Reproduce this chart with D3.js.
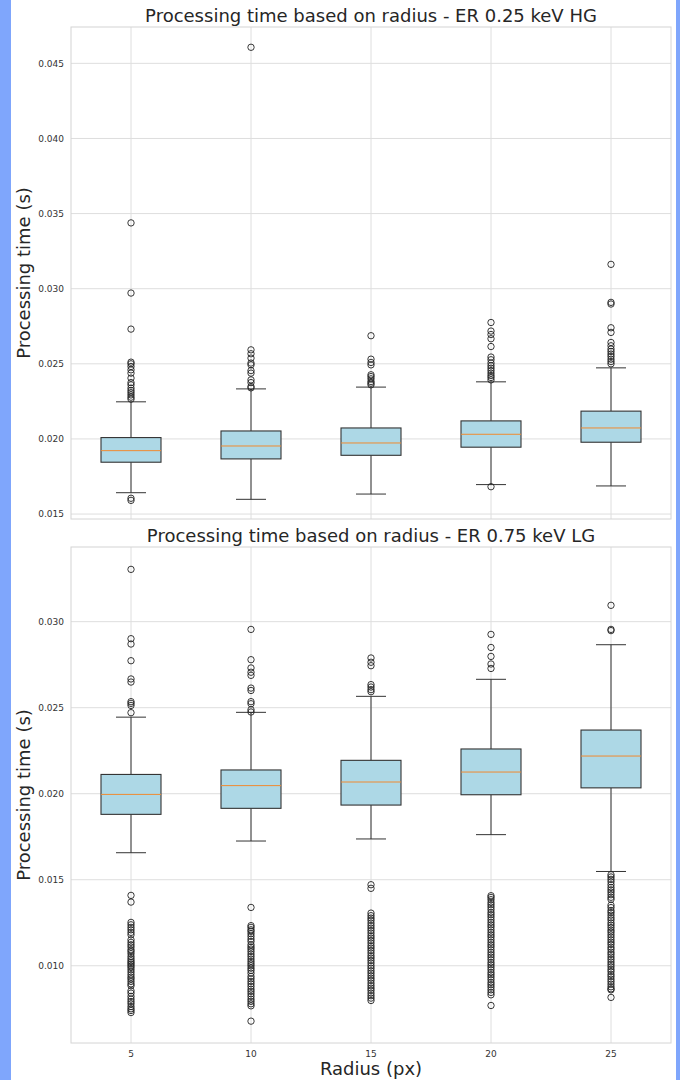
<!DOCTYPE html>
<html>
<head>
<meta charset="utf-8">
<script src="https://cdn.jsdelivr.net/npm/d3@7"></script>
<style>
  body { margin: 0; background: #fff; }
  svg { display: block; font-family: "DejaVu Sans", sans-serif; }
</style>
</head>
<body>
<div id="chart"></div>
<script>
// Radii (x categories)
const radii = [5, 10, 15, 20, 25];

// ER 0.25 keV HG - box statistics
const hgQ1 = [0.01845, 0.01867, 0.01891, 0.01945, 0.01978];
const hgMedian = [0.01922, 0.01953, 0.01973, 0.02031, 0.02073];
const hgQ3 = [0.02009, 0.02053, 0.02073, 0.02120, 0.02185];
const hgWhiskerLow = [0.01642, 0.01598, 0.01633, 0.01696, 0.01687];
const hgWhiskerHigh = [0.02247, 0.02333, 0.02345, 0.02380, 0.02473];
const hgOutliers = [
  [0.03438, 0.02971, 0.02731, 0.02511, 0.02500, 0.02482, 0.02460, 0.02438, 0.02405, 0.02375, 0.02360, 0.02338, 0.02322, 0.02308, 0.02293, 0.02278, 0.02265, 0.01605, 0.01591],
  [0.04607, 0.02593, 0.02567, 0.02538, 0.02505, 0.02493, 0.02455, 0.02438, 0.02393, 0.02375, 0.02349, 0.02340],
  [0.02687, 0.02531, 0.02509, 0.02493, 0.02427, 0.02415, 0.02400, 0.02382, 0.02371, 0.02360],
  [0.02775, 0.02718, 0.02695, 0.02667, 0.02615, 0.02545, 0.02527, 0.02505, 0.02487, 0.02471, 0.02455, 0.02438, 0.02422, 0.02409, 0.02393, 0.01682],
  [0.03162, 0.02909, 0.02898, 0.02740, 0.02709, 0.02642, 0.02620, 0.02598, 0.02582, 0.02565, 0.02549, 0.02531, 0.02515, 0.02500]
];
const hgTicks = [0.015, 0.020, 0.025, 0.030, 0.035, 0.040, 0.045];

// ER 0.75 keV LG - box statistics
const lgQ1 = [0.01880, 0.01915, 0.01934, 0.01994, 0.02034];
const lgMedian = [0.01996, 0.02047, 0.02068, 0.02126, 0.02219];
const lgQ3 = [0.02112, 0.02138, 0.02194, 0.02260, 0.02370];
const lgWhiskerLow = [0.01657, 0.01725, 0.01737, 0.01762, 0.01548];
const lgWhiskerHigh = [0.02445, 0.02473, 0.02566, 0.02665, 0.02866];
const lgOutliers = [
  [0.03304, 0.02901, 0.02870, 0.02773, 0.02667, 0.02649, 0.02535, 0.02525, 0.02513, 0.02471,
   0.01409, 0.01370, 0.01252, 0.01238, 0.01223, 0.01209, 0.01194, 0.01180, 0.01151, 0.01136, 0.01122, 0.01109, 0.01093, 0.01083,
   0.01070, 0.01054, 0.01041, 0.01029, 0.01019, 0.01010, 0.01000, 0.00990, 0.00977, 0.00963, 0.00948, 0.00934, 0.00923, 0.00909,
   0.00895, 0.00884, 0.00855, 0.00841, 0.00822, 0.00806, 0.00792, 0.00779, 0.00763, 0.00750, 0.00740, 0.00728],
  [0.02955, 0.02779, 0.02731, 0.02706, 0.02688, 0.02614, 0.02600, 0.02535, 0.02523, 0.02488, 0.02475,
   0.01339, 0.01233, 0.01223, 0.01209, 0.01200, 0.01186, 0.01171, 0.01155, 0.01141, 0.01122, 0.01109, 0.01097, 0.01083, 0.01068,
   0.01054, 0.01039, 0.01025, 0.01012, 0.01000, 0.00986, 0.00973, 0.00957, 0.00938, 0.00924, 0.00909, 0.00895, 0.00880, 0.00864,
   0.00851, 0.00837, 0.00822, 0.00806, 0.00793, 0.00779, 0.00767, 0.00678],
  [0.02789, 0.02764, 0.02744, 0.02634, 0.02620, 0.02605, 0.02593,
   0.01471, 0.01450, 0.01306, 0.01291, 0.01277, 0.01264, 0.01248, 0.01233, 0.01219, 0.01205, 0.01190, 0.01174, 0.01161, 0.01147,
   0.01132, 0.01116, 0.01103, 0.01089, 0.01074, 0.01058, 0.01045, 0.01031, 0.01016, 0.01000, 0.00986, 0.00971, 0.00957, 0.00942,
   0.00928, 0.00915, 0.00899, 0.00884, 0.00870, 0.00857, 0.00841, 0.00826, 0.00812, 0.00798],
  [0.02926, 0.02850, 0.02798, 0.02754, 0.02728,
   0.01407, 0.01397, 0.01384, 0.01368, 0.01355, 0.01341, 0.01326, 0.01310, 0.01297, 0.01283, 0.01267, 0.01252, 0.01238, 0.01225,
   0.01209, 0.01194, 0.01180, 0.01167, 0.01151, 0.01136, 0.01122, 0.01109, 0.01093, 0.01078, 0.01064, 0.01050, 0.01035, 0.01019,
   0.01006, 0.00992, 0.00977, 0.00961, 0.00948, 0.00934, 0.00919, 0.00903, 0.00890, 0.00876, 0.00860, 0.00845, 0.00831, 0.00769],
  [0.03095, 0.02955, 0.02948,
   0.01529, 0.01516, 0.01502, 0.01488, 0.01471, 0.01455, 0.01441, 0.01428, 0.01413, 0.01398, 0.01386, 0.01352, 0.01338, 0.01321,
   0.01309, 0.01294, 0.01279, 0.01266, 0.01249, 0.01236, 0.01222, 0.01207, 0.01195, 0.01180, 0.01166, 0.01151, 0.01137, 0.01124,
   0.01108, 0.01095, 0.01079, 0.01066, 0.01051, 0.01037, 0.01022, 0.01008, 0.00994, 0.00979, 0.00966, 0.00950, 0.00937, 0.00922,
   0.00908, 0.00893, 0.00878, 0.00866, 0.00860, 0.00816]
];
const lgTicks = [0.010, 0.015, 0.020, 0.025, 0.030];

// Layout
const width = 680;
const height = 1080;
const left = 71;
const right = 671;

const svg = d3.select("#chart")
  .append("svg")
  .attr("width", width)
  .attr("height", height);

// blue page edges
svg.append("rect").attr("x", 0).attr("y", 0).attr("width", 11).attr("height", height).attr("fill", "#7fa6fc");
svg.append("rect").attr("x", 676).attr("y", 0).attr("width", 4).attr("height", height).attr("fill", "#7fa6fc");

const x = d3.scaleBand()
  .domain(radii)
  .range([left, right])
  .paddingInner(0.5)
  .paddingOuter(0.25);

function drawPanel(p) {
  const y = d3.scaleLinear().domain(p.domain).range([p.bottom, p.top]);
  const g = svg.append("g");

  // grid
  g.selectAll(".hgrid").data(p.ticks).enter().append("line")
    .attr("x1", left).attr("x2", right)
    .attr("y1", d => y(d)).attr("y2", d => y(d))
    .attr("stroke", "#dedede").attr("stroke-width", 1);
  g.selectAll(".vgrid").data(radii).enter().append("line")
    .attr("x1", d => x(d) + x.bandwidth() / 2).attr("x2", d => x(d) + x.bandwidth() / 2)
    .attr("y1", p.top).attr("y2", p.bottom)
    .attr("stroke", "#dedede").attr("stroke-width", 1);

  // frame
  g.append("rect")
    .attr("x", left).attr("y", p.top)
    .attr("width", right - left).attr("height", p.bottom - p.top)
    .attr("fill", "none").attr("stroke", "#d4d4d4").attr("stroke-width", 1);

  // y axis labels
  const yAxis = g.append("g")
    .attr("transform", `translate(${left},0)`)
    .call(d3.axisLeft(y).tickValues(p.ticks).tickFormat(d3.format(".3f")).tickSize(0).tickPadding(7));
  yAxis.select(".domain").remove();
  yAxis.selectAll("text").attr("font-size", 9).attr("fill", "#333").attr("font-family", "DejaVu Sans");

  const boxes = radii.map((r, i) => ({
    r, q1: p.q1[i], med: p.median[i], q3: p.q3[i],
    lo: p.wLow[i], hi: p.wHigh[i], out: p.outliers[i]
  }));
  const cx = d => x(d.r) + x.bandwidth() / 2;
  const capW = x.bandwidth() / 4;

  const b = g.selectAll(".box").data(boxes).enter().append("g");

  // whiskers
  b.append("line").attr("x1", cx).attr("x2", cx)
    .attr("y1", d => y(d.q3)).attr("y2", d => y(d.hi))
    .attr("stroke", "#333").attr("stroke-width", 1);
  b.append("line").attr("x1", cx).attr("x2", cx)
    .attr("y1", d => y(d.q1)).attr("y2", d => y(d.lo))
    .attr("stroke", "#333").attr("stroke-width", 1);
  // caps
  b.append("line").attr("x1", d => cx(d) - capW).attr("x2", d => cx(d) + capW)
    .attr("y1", d => y(d.hi)).attr("y2", d => y(d.hi))
    .attr("stroke", "#333").attr("stroke-width", 1);
  b.append("line").attr("x1", d => cx(d) - capW).attr("x2", d => cx(d) + capW)
    .attr("y1", d => y(d.lo)).attr("y2", d => y(d.lo))
    .attr("stroke", "#333").attr("stroke-width", 1);

  // box
  b.append("rect")
    .attr("x", d => x(d.r)).attr("width", x.bandwidth())
    .attr("y", d => y(d.q3)).attr("height", d => y(d.q1) - y(d.q3))
    .attr("fill", "#add8e6").attr("stroke", "#333").attr("stroke-width", 1.1);

  // median
  b.append("line").attr("x1", d => x(d.r)).attr("x2", d => x(d.r) + x.bandwidth())
    .attr("y1", d => y(d.med)).attr("y2", d => y(d.med))
    .attr("stroke", "#f08a30").attr("stroke-width", 1);

  // outliers
  b.selectAll("circle").data(d => d.out.map(v => ({ r: d.r, v }))).enter().append("circle")
    .attr("cx", d => x(d.r) + x.bandwidth() / 2)
    .attr("cy", d => y(d.v))
    .attr("r", 3.2)
    .attr("fill", "none").attr("stroke", "#222").attr("stroke-width", 0.9);

  // title
  g.append("text")
    .attr("x", (left + right) / 2).attr("y", p.titleY)
    .attr("text-anchor", "middle").attr("font-size", 18).attr("fill", "#262626")
    .text(p.title);

  // y label
  g.append("text")
    .attr("transform", `translate(30,${(p.top + p.bottom) / 2}) rotate(-90)`)
    .attr("text-anchor", "middle").attr("font-size", 18).attr("fill", "#262626")
    .text("Processing time (s)");

  return y;
}

drawPanel({
  title: "Processing time based on radius - ER 0.25 keV HG",
  top: 27, bottom: 519, titleY: 22,
  domain: [0.01467, 0.04742], ticks: hgTicks,
  q1: hgQ1, median: hgMedian, q3: hgQ3, wLow: hgWhiskerLow, wHigh: hgWhiskerHigh, outliers: hgOutliers
});

drawPanel({
  title: "Processing time based on radius - ER 0.75 keV LG",
  top: 547, bottom: 1043, titleY: 542,
  domain: [0.00551, 0.03434], ticks: lgTicks,
  q1: lgQ1, median: lgMedian, q3: lgQ3, wLow: lgWhiskerLow, wHigh: lgWhiskerHigh, outliers: lgOutliers
});

// x axis (bottom panel only)
const xAxis = svg.append("g")
  .attr("transform", "translate(0,1043)")
  .call(d3.axisBottom(x).tickSize(0).tickPadding(8));
xAxis.select(".domain").remove();
xAxis.selectAll("text").attr("font-size", 9).attr("fill", "#333").attr("font-family", "DejaVu Sans");

svg.append("text")
  .attr("x", (left + right) / 2).attr("y", 1075)
  .attr("text-anchor", "middle").attr("font-size", 18).attr("fill", "#262626")
  .text("Radius (px)");
</script>
</body>
</html>
